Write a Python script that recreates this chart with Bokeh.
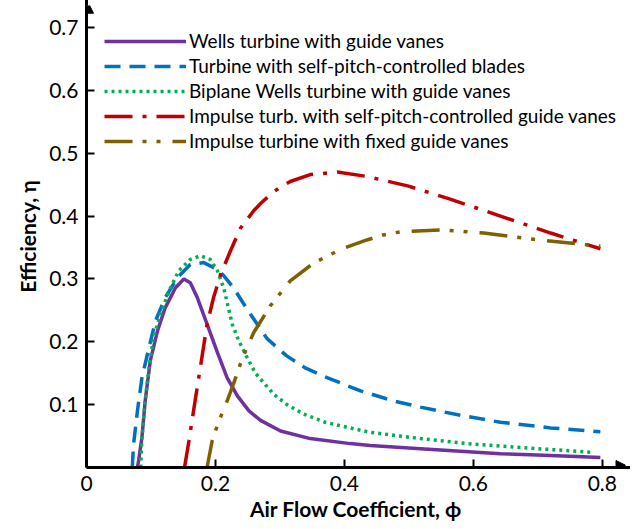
from bokeh.plotting import figure
from bokeh.models import Range1d, FixedTicker, Arrow, NormalHead
from bokeh.embed import file_html
from bokeh.resources import INLINE

# ---- data ----
wells_x = [0.079, 0.081, 0.086, 0.091, 0.099, 0.110, 0.122, 0.138, 0.151, 0.161, 0.172,
           0.187, 0.203, 0.218, 0.234, 0.252, 0.270, 0.301, 0.347, 0.409, 0.440, 0.518,
           0.580, 0.642, 0.720, 0.797]
wells_y = [0.000, 0.012, 0.048, 0.106, 0.170, 0.217, 0.254, 0.286, 0.300, 0.294, 0.270,
           0.228, 0.183, 0.143, 0.114, 0.090, 0.075, 0.058, 0.046, 0.038, 0.035, 0.030,
           0.026, 0.022, 0.019, 0.016]

pitch_x = [0.071, 0.073, 0.079, 0.086, 0.097, 0.107, 0.122, 0.141, 0.161, 0.182, 0.203,
           0.213, 0.228, 0.249, 0.280, 0.310, 0.340, 0.373, 0.425, 0.476, 0.518, 0.580,
           0.642, 0.720, 0.797]
pitch_y = [0.000, 0.037, 0.090, 0.143, 0.191, 0.233, 0.270, 0.302, 0.323, 0.326, 0.315,
           0.305, 0.286, 0.252, 0.205, 0.178, 0.158, 0.143, 0.122, 0.106, 0.096, 0.083,
           0.072, 0.063, 0.057]

biplane_x = [0.084, 0.086, 0.091, 0.097, 0.104, 0.115, 0.128, 0.143, 0.161, 0.177, 0.192,
             0.203, 0.213, 0.226, 0.236, 0.249, 0.262, 0.290, 0.311, 0.337, 0.370, 0.404,
             0.440, 0.518, 0.590, 0.700, 0.786]
biplane_y = [0.000, 0.048, 0.106, 0.159, 0.207, 0.244, 0.281, 0.313, 0.331, 0.337, 0.331,
             0.313, 0.285, 0.228, 0.202, 0.175, 0.150, 0.117, 0.100, 0.085, 0.072, 0.064,
             0.056, 0.046, 0.038, 0.030, 0.024]

imp_sp_x = [0.152, 0.159, 0.166, 0.177, 0.187, 0.197, 0.208, 0.223, 0.239, 0.259, 0.270,
            0.285, 0.300, 0.316, 0.347, 0.389, 0.435, 0.498, 0.564, 0.642, 0.720, 0.797]
imp_sp_y = [0.000, 0.043, 0.090, 0.162, 0.228, 0.270, 0.307, 0.344, 0.381, 0.408, 0.420,
            0.434, 0.446, 0.455, 0.466, 0.470, 0.463, 0.448, 0.427, 0.400, 0.373, 0.348]

imp_fx_x = [0.187, 0.195, 0.205, 0.216, 0.228, 0.241, 0.259, 0.285, 0.316, 0.352, 0.394,
            0.435, 0.460, 0.487, 0.553, 0.616, 0.694, 0.797]
imp_fx_y = [0.000, 0.043, 0.073, 0.100, 0.133, 0.172, 0.214, 0.257, 0.297, 0.325, 0.347,
            0.362, 0.370, 0.375, 0.378, 0.373, 0.363, 0.352]

x_ticks = [0, 0.2, 0.4, 0.6, 0.8]
y_ticks = [0.1, 0.2, 0.3, 0.4, 0.5, 0.6, 0.7]

labels = ["Wells turbine with guide vanes",
          "Turbine with self-pitch-controlled blades",
          "Biplane Wells turbine with guide vanes",
          "Impulse turb. with self-pitch-controlled guide vanes",
          "Impulse turbine with fixed guide vanes"]

FONT = "Lato"

p = figure(width=632, height=529, output_backend="svg", toolbar_location=None,
           x_range=Range1d(0, 0.836), y_range=Range1d(0, 0.735),
           min_border_left=86, min_border_right=7, min_border_top=5, min_border_bottom=62)
p.outline_line_color = None
p.grid.visible = False
p.background_fill_color = "white"

for ax in (p.xaxis[0], p.yaxis[0]):
    ax.axis_line_width = 3
    ax.axis_line_color = "black"
    ax.major_tick_in = 8
    ax.major_tick_out = 0
    ax.major_tick_line_width = 2
    ax.minor_tick_line_color = None
    ax.major_label_text_font = FONT
    ax.major_label_text_font_size = "21px"
    ax.major_label_text_color = "black"
    ax.axis_label_text_font = FONT
    ax.axis_label_text_font_style = "bold"
    ax.axis_label_text_font_size = "21px"
    ax.axis_label_text_color = "black"

p.xaxis.ticker = FixedTicker(ticks=x_ticks)
p.yaxis.ticker = FixedTicker(ticks=y_ticks)
p.xaxis.major_label_overrides = {0: "0", 0.2: "0.2", 0.4: "0.4", 0.6: "0.6", 0.8: "0.8"}
p.xaxis.axis_label = "Air Flow Coefficient, ϕ"
p.yaxis.axis_label = "Efficiency, η"
p.xaxis.major_label_standoff = 8
p.yaxis.major_label_standoff = 8
p.xaxis.axis_label_standoff = 2
p.yaxis.axis_label_standoff = 6

lw = 3.5
p.line(wells_x, wells_y, line_color="#7030A0", line_width=lw, legend_label=labels[0])
p.line(pitch_x, pitch_y, line_color="#0070C0", line_width=lw, line_dash="16 9",
       legend_label=labels[1])
p.line(biplane_x, biplane_y, line_color="#00B050", line_width=lw, line_dash="3 4",
       legend_label=labels[2])
p.line(imp_sp_x, imp_sp_y, line_color="#C00000", line_width=lw, line_dash="28 10 4 10",
       legend_label=labels[3])
p.line(imp_fx_x, imp_fx_y, line_color="#7F6000", line_width=lw, line_dash="28 10 4 10 4 12",
       legend_label=labels[4])

# arrowheads on the axes
p.add_layout(Arrow(end=NormalHead(size=14, fill_color="black", line_color="black"),
                   x_start=0, y_start=0.70, x_end=0, y_end=0.745,
                   line_width=3, line_color="black"))
p.add_layout(Arrow(end=NormalHead(size=14, fill_color="black", line_color="black"),
                   x_start=0.80, y_start=0, x_end=0.843, y_end=0,
                   line_width=3, line_color="black"))

lg = p.legend[0]
lg.location = (18, 315)
lg.padding = 0
lg.margin = 0
lg.spacing = 2
lg.glyph_width = 82
lg.glyph_height = 20
lg.label_height = 20
lg.label_standoff = 3
lg.label_text_font = FONT
lg.label_text_font_size = "19px"
lg.label_text_color = "black"
lg.border_line_color = None
lg.background_fill_alpha = 0

open("out.html", "w").write(file_html(p, INLINE))
